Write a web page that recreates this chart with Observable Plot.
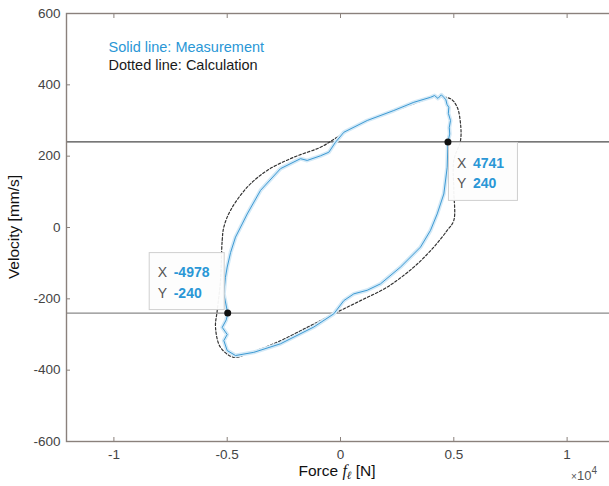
<!DOCTYPE html>
<html><head><meta charset="utf-8">
<script src="https://cdn.jsdelivr.net/npm/d3@7"></script>
<script src="https://cdn.jsdelivr.net/npm/@observablehq/plot@0.6"></script>
<style>
body{margin:0;background:#fff;font-family:"Liberation Sans",Arial,sans-serif}
#chart{position:relative;width:609px;height:486px;overflow:hidden}
#chart svg{max-width:none !important;display:block}
</style>
</head><body><div id="chart"></div>
<script>
const xTicks = [-10000, -5000, 0, 5000, 10000];
const xTickLabels = ["-1", "-0.5", "0", "0.5", "1"];
const yTicks = [-600, -400, -200, 0, 200, 400, 600];
const yTickLabels = ["-600", "-400", "-200", "0", "200", "400", "600"];

// Measurement (solid blue), force [N], velocity [mm/s]
const measX = [-4978,-5150,-5080,-5000,-4850,-4634,-4338,-4117,-3530,-2648,-1765,-1470,-883,-515,-221,146,1178,2352,3235,3972,4150,4300,4450,4559,4650,4700,4779,4760,4854,4800,4820,4741,4709,4559,4267,3972,3530,2648,1765,1178,587,146,-296,-1178,-2648,-3826,-4634,-5000,-5150,-5000,-5220,-5050];
const measY = [-240,-186,-140,-111,-70,-27,10,38,104,165,193,188,201,211,239,267,300,328,351,365,370,362,372,365,358,345,337,320,300,280,262,240,169,94,38,-8,-55,-111,-158,-176,-186,-205,-242,-279,-326,-350,-359,-345,-317,-300,-280,-260];

// Calculation (dotted black)
const calcX = [-5221,-5150,-4854,-4117,-3235,-2061,-883,-146,883,2061,3235,4117,4854,5150,5296,5296,5000,5000,5000,4709,4117,3235,2061,883,-296,-1470,-2943,-4117,-4709,-5296,-5516,-5441,-5296];
const calcY = [-36,1,48,113,160,197,225,253,291,319,347,365,361,337,291,244,188,104,20,-8,-55,-111,-167,-205,-242,-280,-326,-354,-364,-336,-280,-233,-149];

// Data tips
const tipX = [4741, -4978];
const tipY = [240, -240];
const tipXLabel = ["4741", "-4978"];
const tipYLabel = ["240", "-240"];

const legendLines = ["Solid line: Measurement", "Dotted line: Calculation"];
const xLabel = "Force";
const yLabel = "Velocity [mm/s]";

const meas = measX.map((x, i) => ({x, y: measY[i]}));
const calc = calcX.map((x, i) => ({x, y: calcY[i]}));
const tips = tipX.map((x, i) => ({x, y: tipY[i], xl: tipXLabel[i], yl: tipYLabel[i]}));

const blue = "#2a97d6";
const frameColor = "#8a817c";
const fmtX = d => xTickLabels[xTicks.indexOf(d)];
const fmtY = d => yTickLabels[yTicks.indexOf(d)];

const chart = Plot.plot({
  width: 612, height: 486,
  marginLeft: 66, marginTop: 13, marginBottom: 45, marginRight: 0,
  x: {domain: [-12092, 12003]},
  y: {domain: [-600, 600]},
  style: {fontFamily: "'Liberation Sans', Arial, sans-serif", fontSize: "13.5px", color: "#444", background: "#fff", maxWidth: "none"},
  marks: [
    Plot.ruleY([240], {stroke: "#4a4a4a", strokeWidth: 1.2}),
    Plot.ruleY([-240], {stroke: "#8a8a8a", strokeWidth: 1.2}),
    Plot.line(calc, {x: "x", y: "y", stroke: "#333", strokeWidth: 1.2, strokeDasharray: "2.5,2", curve: "catmull-rom-closed"}),
    Plot.line(meas, {x: "x", y: "y", stroke: "#d3e9f7", strokeWidth: 4, curve: "linear-closed"}),
    Plot.line(meas, {x: "x", y: "y", stroke: "#3d9ad3", strokeWidth: 1, curve: "linear-closed"}),
    Plot.frame({stroke: frameColor, strokeWidth: 1.4}),
    Plot.axisX(xTicks, {anchor: "bottom", tickSize: 0, tickPadding: 8, tickFormat: fmtX, label: null, fill: "#444"}),
    Plot.axisX(xTicks, {anchor: "bottom", tickSize: -4, tickFormat: () => "", label: null, stroke: frameColor}),
    Plot.axisX(xTicks, {anchor: "top", tickSize: -4, tickFormat: () => "", label: null, stroke: frameColor}),
    Plot.axisY(yTicks, {anchor: "left", tickSize: 0, tickPadding: 6, tickFormat: fmtY, label: null, fill: "#444"}),
    Plot.axisY(yTicks, {anchor: "left", tickSize: -4, tickFormat: () => "", label: null, stroke: frameColor}),
    Plot.axisY(yTicks, {anchor: "right", tickSize: -4, tickFormat: () => "", label: null, stroke: frameColor}),
    // data-tip boxes
    Plot.rect([tips[0]], {x1: "x", x2: "x", y1: "y", y2: "y", insetLeft: 1, insetRight: -70, insetTop: 1, insetBottom: -59, fill: "#fdfdfd", fillOpacity: 0.95, stroke: "#cfcfcf"}),
    Plot.rect([tips[1]], {x1: "x", x2: "x", y1: "y", y2: "y", insetLeft: -78, insetRight: 3, insetTop: -60, insetBottom: 3, fill: "#fdfdfd", fillOpacity: 0.95, stroke: "#cfcfcf"}),
    Plot.text([tips[0]], {x: "x", y: "y", text: () => "X", dx: 9, dy: 22, textAnchor: "start", fontSize: 14, fill: "#555"}),
    Plot.text([tips[0]], {x: "x", y: "y", text: () => "Y", dx: 9, dy: 42, textAnchor: "start", fontSize: 14, fill: "#555"}),
    Plot.text([tips[0]], {x: "x", y: "y", text: "xl", dx: 25, dy: 22, textAnchor: "start", fontSize: 14, fontWeight: "bold", fill: blue}),
    Plot.text([tips[0]], {x: "x", y: "y", text: "yl", dx: 25, dy: 42, textAnchor: "start", fontSize: 14, fontWeight: "bold", fill: blue}),
    Plot.text([tips[1]], {x: "x", y: "y", text: () => "X", dx: -70, dy: -41, textAnchor: "start", fontSize: 14, fill: "#555"}),
    Plot.text([tips[1]], {x: "x", y: "y", text: () => "Y", dx: -70, dy: -20, textAnchor: "start", fontSize: 14, fill: "#555"}),
    Plot.text([tips[1]], {x: "x", y: "y", text: "xl", dx: -54, dy: -41, textAnchor: "start", fontSize: 14, fontWeight: "bold", fill: blue}),
    Plot.text([tips[1]], {x: "x", y: "y", text: "yl", dx: -54, dy: -20, textAnchor: "start", fontSize: 14, fontWeight: "bold", fill: blue}),
    Plot.dot(tips, {x: "x", y: "y", r: 3.5, fill: "#111", stroke: "none"}),
    // legend text
    Plot.text([legendLines[0]], {frameAnchor: "top-left", dx: 42, dy: 28, text: d => d, textAnchor: "start", fontSize: 14.5, fill: blue}),
    Plot.text([legendLines[1]], {frameAnchor: "top-left", dx: 42, dy: 46, text: d => d, textAnchor: "start", fontSize: 14.5, fill: "#1a1a1a"})
  ]
});

const svg = d3.select(chart);
// x-axis label with italic f and subscript ℓ
const xl = svg.append("text").attr("x", 337).attr("y", 476).attr("text-anchor", "middle")
  .attr("font-size", 15.5).attr("fill", "#111");
xl.append("tspan").text(xLabel + " ");
xl.append("tspan").attr("font-style", "italic").attr("font-family", "'Liberation Serif', serif").attr("font-size", 16).text("f");
xl.append("tspan").attr("font-style", "italic").attr("font-family", "'Liberation Serif', serif").attr("font-size", 11).attr("dy", 3).text("ℓ");
xl.append("tspan").attr("dy", -3).text(" [N]");
// y-axis label
svg.append("text").attr("transform", "translate(19,227) rotate(-90)").attr("text-anchor", "middle")
  .attr("font-size", 15.5).attr("fill", "#111").text(yLabel);
// exponent
const ex = svg.append("text").attr("x", 584).attr("y", 480).attr("font-size", 13).attr("fill", "#555");
ex.append("tspan").attr("font-size", 10).text("×");
ex.append("tspan").text("10");
ex.append("tspan").attr("dy", -6).attr("font-size", 10).text("4");

document.getElementById("chart").appendChild(chart);
</script>
</body></html>
